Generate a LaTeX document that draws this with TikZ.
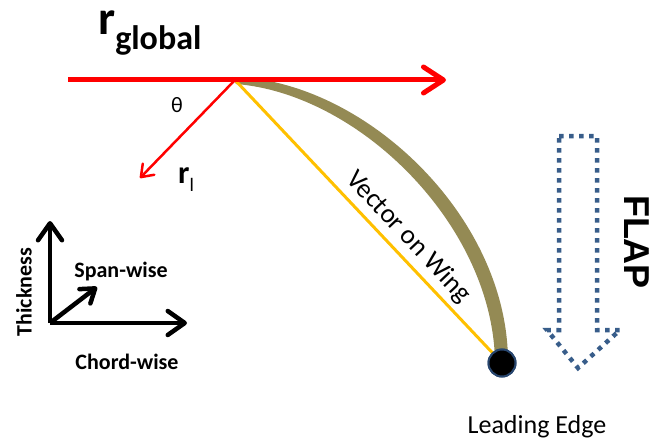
\documentclass[tikz,border=0pt]{standalone}
\usepackage{fontspec}
\setmainfont{Carlito}
\newfontfamily\flapfont{Liberation Sans}
\usetikzlibrary{arrows.meta}
\definecolor{wingcol}{RGB}{148,138,84}
\definecolor{vecyel}{RGB}{255,192,0}
\definecolor{flapblue}{RGB}{56,93,138}
\definecolor{dotrim}{RGB}{40,70,110}
\tikzset{
  redvec/.style={draw=red, line width=5pt, -{Straight Barb[length=20pt,width=26pt,round]}},
  redthin/.style={draw=red, line width=2.5pt, -{Straight Barb[length=11pt,width=16pt,round]}},
  axisvec/.style={draw=black, line width=4.5pt, -{Straight Barb[length=17pt,width=24pt,round]}},
  spanvec/.style={draw=black, line width=4.5pt, -{Straight Barb[length=13pt,width=18pt,round]}},
  lbl/.style={inner sep=0pt, font=\fontsize{22}{24}\selectfont\bfseries},
  plain/.style={inner sep=0pt, text=black, font=\fontsize{26}{28}\selectfont},
  ledot/.style={circle, fill=black, draw=dotrim, line width=2pt, minimum size=27pt, inner sep=0pt},
}
\begin{document}
\begin{tikzpicture}[x=1pt,y=-1pt]
\useasboundingbox (0,0) rectangle (664,444);
% points
\coordinate (G0) at (68,80);
\coordinate (G1) at (446,80);
\coordinate (O) at (235,80);
\coordinate (RL) at (140,178);
% wing
\fill[wingcol] (232,77) .. controls (362,79) and (508,215) .. (508,362)
  -- (495,362) .. controls (493,226) and (360,94) .. (236,84) -- cycle;
% vector on wing
\node[ledot] (LE) at (502,363) {};
\draw[vecyel, line width=3pt] (O) -- (LE.center)
  node[pos=0.6, sloped, above=5pt, plain, font=\fontsize{27}{28}\selectfont] (VW) {Vector on Wing};
\node[ledot] at (LE) {};
% red vectors
\draw[redvec] (G0) -- (G1);
\draw[redthin] (O) -- (RL);
% labels
\node[anchor=base west, inner sep=0pt] (RG) at (98,35) {\fontsize{48}{48}\selectfont\bfseries r\raisebox{-15pt}{\fontsize{34}{34}\selectfont global}};
\node[anchor=base west, inner sep=0pt] (RLL) at (178,183) {\fontsize{32}{32}\selectfont\bfseries r\raisebox{-8pt}{\fontsize{19}{19}\selectfont\mdseries l}};
\node[inner sep=0pt, font=\fontsize{22}{24}\selectfont] (TH) at (177,105) {θ};
% axes
\coordinate (A) at (50,323);
\coordinate (AY) at (50,221);
\coordinate (AX) at (187,323);
\coordinate (AS) at (97,287);
\draw[axisvec] (A) -- (AY);
\draw[axisvec] (A) -- (AX);
\draw[spanvec] (A) -- (AS);
\node[lbl, rotate=90] (TK) at (24,292) {Thickness};
\node[lbl] (SW) at (121,272) {Span-wise};
\node[lbl] (CW) at (127,362) {Chord-wise};
% leading edge
\node[plain] (LEL) at (537,427) {Leading Edge};
% flap arrow
\draw[flapblue, line width=4.5pt, dash pattern=on 4.5pt off 5.5pt]
  (559,136) -- (597,136) -- (597,330) -- (620,330) -- (578,368) -- (547,330) -- (559,330) -- cycle;
\node[inner sep=0pt, rotate=-90, font=\fontsize{36}{36}\selectfont\flapfont\bfseries] (FL) at (637,242) {FLAP};
\end{tikzpicture}
\end{document}
